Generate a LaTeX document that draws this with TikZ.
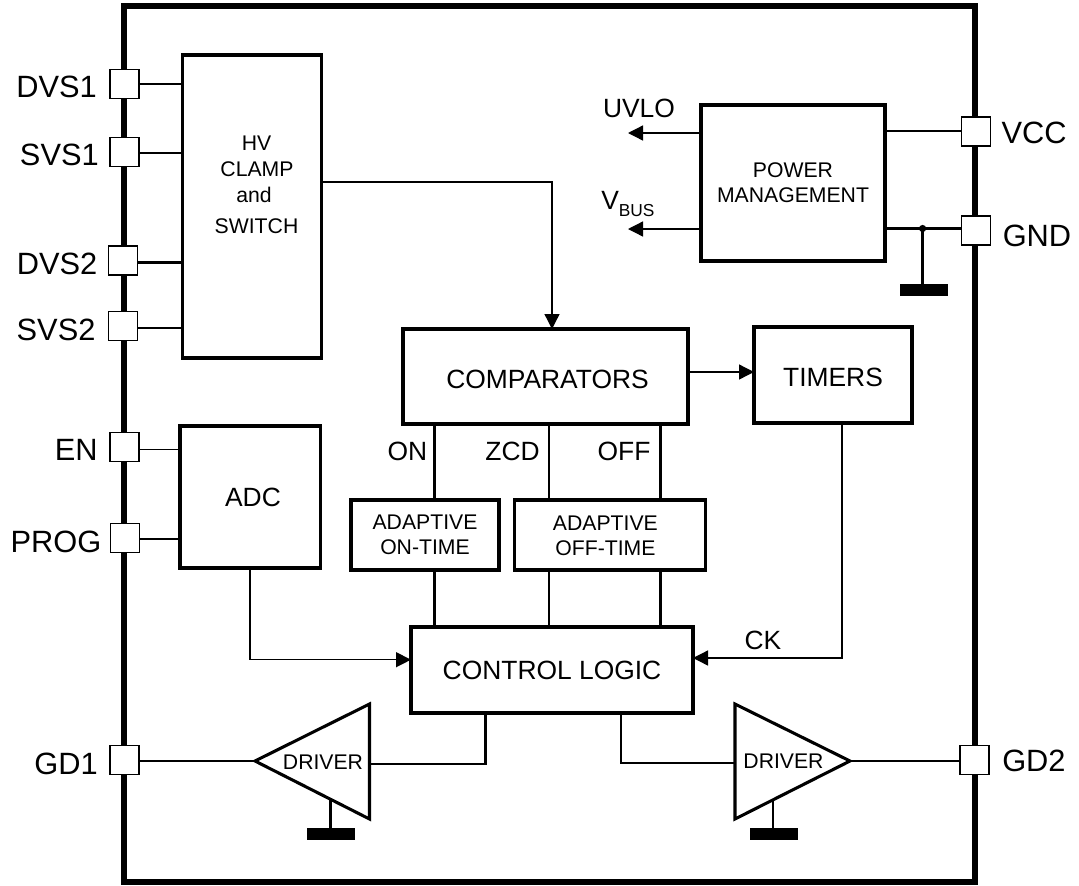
\documentclass[tikz,border=0pt]{standalone}
\usepackage{fontspec}
\setmainfont{Liberation Sans}
\usetikzlibrary{arrows.meta}
\newcommand{\bigfont}{\fontsize{23.1}{24}\selectfont}
\newcommand{\midfont}{\fontsize{19.8}{22}\selectfont}
\newcommand{\smallfont}{\fontsize{15.9}{18.5}\selectfont}
\newcommand{\subfont}{\fontsize{13}{14}\selectfont}
\begin{document}
\begin{tikzpicture} [
                x=0.75pt,y=-0.75pt,
                frame/.style = {draw,line width=3.9pt,line join=miter},
                pad/.style = {draw,fill=white,line width=1.1pt,minimum size=21.75pt,inner sep=0pt,outer sep=0pt},
                pin label/.style = {font=\bigfont,inner sep=0pt},
                block/.style = {draw,line width=2.5pt,inner sep=0pt,outer sep=0pt,align=center,font=\midfont},
                small block/.style = {block,font=\smallfont},
                tag/.style = {font=\midfont,inner sep=0pt,align=center},
                small tag/.style = {font=\smallfont,inner sep=0pt,align=center},
                wire/.style = {draw,line width=1.7pt},
                thin wire/.style = {draw,line width=1pt},
                signal/.style = {draw,line width=1pt,-{Triangle[length=11.25pt,width=11.25pt]}},
                driver/.style = {draw,line width=2.3pt,line join=miter},
                ground/.style = {fill=black,draw=none,inner sep=0pt,outer sep=0pt,minimum width=36pt,minimum height=9pt},
            ]
            \useasboundingbox (0,0) rectangle (1079,886);
            % package outline
            \draw[frame] (124,6) rectangle (975,882);
            % pins and their names
            \foreach \pos/\name/\txtpos/\side/\label in {
                    {(124.5,84)/dvsa/(97,87)/east/DVS1},
                    {(124.5,152)/svsa/(99,155)/east/SVS1},
                    {(123,260.5)/dvsb/(97.5,264)/east/DVS2},
                    {(123,326)/svsb/(95.7,330)/east/SVS2},
                    {(124.5,447)/en/(98,450)/east/EN},
                    {(125,538)/prog/(101.6,542)/east/PROG},
                    {(124.5,760)/gda/(98,764)/east/GD1},
                    {(976,131.7)/vcc/(1001.4,133)/west/VCC},
                    {(976,230.5)/gnd/(1002.5,235.7)/west/GND},
                    {(974.6,760)/gdb/(1002,761)/west/GD2}}
                {
                \node[pad] (\name) at \pos {};
                \node[pin label,anchor=\side] (\name txt) at \txtpos {\label};
                }
            % blocks
            \node[small block,minimum width=104.3pt,minimum height=227.25pt] (clamp) at (252,206.5) {};
            \node[block,minimum width=105.5pt,minimum height=106.5pt] (adc) at (250.3,497) {\hspace*{4pt}ADC};
            \node[block,minimum width=213.75pt,minimum height=71.25pt] (comp) at (545.5,376.5) {\raisebox{-2pt}[\height][0pt]{\hspace*{3pt}COMPARATORS}};
            \node[block,minimum width=118.5pt,minimum height=72pt] (timers) at (833,375) {\raisebox{-2pt}[\height][0pt]{TIMERS}};
            \node[small block,minimum width=138pt,minimum height=117pt] (power) at (793,183) {POWER\\MANAGEMENT};
            \node[small block,minimum width=111pt,minimum height=52.5pt] (onblock) at (425,535) {ADAPTIVE\\ON-TIME};
            \node[small block,minimum width=143.4pt,minimum height=52.5pt] (offblock) at (610,535) {};
            \node[block,minimum width=211.5pt,minimum height=64.5pt] (logic) at (552,670) {CONTROL LOGIC};
            % texts placed off centre
            \foreach \pos/\name/\label in {
                    {(256.5,143.7)/hvtxt/HV},
                    {(257,168.7)/clamptxt/CLAMP},
                    {(254,195)/andtxt/and},
                    {(256.5,225.7)/switchtxt/SWITCH},
                    {(605.4,535.7)/offtxt/ADAPTIVE\\OFF-TIME}}
                \node[small tag] (\name) at \pos {\label};
            \foreach \pos/\name/\label in {
                    {(407.5,451)/ontag/ON},
                    {(512.5,451)/zcdtag/ZCD},
                    {(624,451)/offtag/OFF},
                    {(763,640)/cktag/CK},
                    {(639,108)/uvlotag/UVLO}}
                \node[tag] (\name) at \pos {\label};
            \node[tag,anchor=west] (vbustag) at (601,204) {V{\subfont\raisebox{-5.5pt}{BUS}}};
            % drivers
            \coordinate (tipa) at (255,761);
            \coordinate (basea) at (369.5,764.3);
            \coordinate (tipb) at (850,761);
            \coordinate (baseb) at (735,763);
            \draw[driver] (tipa) -- (369.5,704) -- (369.5,819) -- cycle;
            \draw[driver] (tipb) -- (735,704) -- (735,819) -- cycle;
            \node[small tag] (drvatxt) at (323,762.3) {DRIVER};
            \node[small tag] (drvbtxt) at (783.5,761) {DRIVER};
            % grounds
            \node[ground] (gnda) at (331,834) {};
            \node[ground] (gndb) at (774.3,834) {};
            \node[ground] (gndc) at (923.6,290) {};
            \coordinate (stuba) at (330.6,800);
            \coordinate (stubb) at (772.8,800);
            \coordinate (dotc) at (922.6,228.5);
            \path[wire] (stuba) -- (stuba |- gnda.north);
            \path[wire] (stubb) -- (stubb |- gndb.north);
            \path[wire] (dotc) -- (dotc |- gndc.north);
            \fill (dotc) circle (2.7pt);
            % pins to blocks
            \foreach \source/\dest/\ypos in {
                    dvsa/clamp/84,
                    svsa/clamp/153,
                    dvsb/clamp/262.5,
                    svsb/clamp/328,
                    prog/adc/539}
                \path[wire] (\source.east |- 0,\ypos) -- (\dest.west |- 0,\ypos);
            \path[thin wire] (en.east |- 0,449.7) -- (adc.west |- 0,449.7);
            \path[thin wire] (power.east |- 0,131) -- (vcc.west |- 0,131);
            \path[wire] (power.east |- dotc) -- (gnd.west |- dotc);
            \path[wire] (gda.east |- tipa) -- (tipa);
            \path[wire] (tipb) -- (gdb.west |- tipb);
            % comparators up and down
            \foreach \xpos in {434.6,549.3,660.5}
                {
                \path[wire] (\xpos,424) -- (\xpos,500);
                \path[wire] (\xpos,570) -- (\xpos,627);
                }
            % signals
            \coordinate (clampout) at (321.6,182);
            \coordinate (compin) at (552,329);
            \coordinate (adcout) at (250,568);
            \coordinate (logicina) at (411,659.7);
            \coordinate (timerout) at (842,423);
            \coordinate (logicinb) at (693,658);
            \path[signal] (clampout) -| (compin);
            \path[signal] (comp.east |- 0,372) -- (timers.west |- 0,372);
            \path[signal] (adcout) |- (logicina);
            \path[signal] (timerout) |- (logicinb);
            \path[signal] (power.west |- 0,133) -- (628,133);
            \path[signal] (power.west |- 0,229) -- (628,229);
            % logic to drivers
            \path[wire] (485.5,713) |- (basea);
            \path[wire] (621,713) |- (baseb);
        \end{tikzpicture}
\end{document}
